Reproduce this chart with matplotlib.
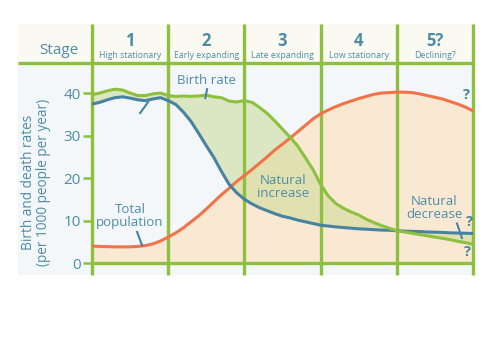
import numpy as np
import matplotlib
matplotlib.use("Agg")
import matplotlib.pyplot as plt
from matplotlib.patches import Rectangle

plt.rcParams['font.family'] = ['Open Sans', 'DejaVu Sans']

# ---- data ----
x = np.round(np.arange(0, 5.001, 0.1), 2)
birth_rate = [39.6, 40.0, 40.5, 40.9, 40.7, 40.0, 39.4, 39.4, 39.8, 40.0,
              39.4, 39.2, 39.3, 39.2, 39.3, 39.5, 39.1, 38.9, 38.1, 37.9,
              38.2, 37.8, 36.6, 35.2, 33.4, 31.5, 29.6, 27.5, 24.8, 22.0,
              18.5, 15.8, 14.0, 12.9, 12.0, 11.3, 10.3, 9.5, 8.8, 8.2,
              7.6, 7.3, 7.0, 6.7, 6.4, 6.1, 5.8, 5.5, 5.1, 4.8, 4.4]
death_rate = [37.4, 37.8, 38.4, 38.9, 39.1, 38.8, 38.4, 38.2, 38.6, 38.9,
              38.2, 37.3, 35.5, 33.3, 30.5, 27.6, 24.8, 21.5, 18.5, 16.5,
              15.0, 13.9, 13.0, 12.3, 11.6, 11.0, 10.6, 10.1, 9.7, 9.3,
              8.9, 8.7, 8.5, 8.35, 8.2, 8.05, 7.95, 7.85, 7.75, 7.7,
              7.6, 7.5, 7.45, 7.4, 7.3, 7.25, 7.2, 7.1, 7.05, 7.0, 6.95]
population = [4.0, 3.9, 3.85, 3.8, 3.8, 3.8, 3.9, 4.1, 4.5, 5.2,
              6.1, 7.1, 8.3, 9.7, 11.1, 12.7, 14.4, 16.1, 17.6, 19.2,
              20.6, 22.0, 23.5, 25.0, 26.6, 28.0, 29.4, 30.9, 32.4, 33.9,
              35.1, 36.0, 36.8, 37.5, 38.1, 38.7, 39.2, 39.7, 40.0, 40.1,
              40.2, 40.2, 40.1, 39.8, 39.4, 39.0, 38.6, 38.0, 37.4, 36.7, 35.8]
stage_numbers = ["1", "2", "3", "4", "5?"]
stage_names = ["High stationary", "Early expanding", "Late expanding",
               "Low stationary", "Declining?"]
y_ticks = [0, 10, 20, 30, 40]

# ---- styling ----
GREEN = "#8dc03f"
BLUE = "#4783a0"
ORANGE = "#f2734a"
TEAL = "#4e8ca6"
BG_BODY = "#f3f7f9"
BG_HEAD = "#fafaf3"
FILL_OR = "#f9e9d2"
FILL_GR = "#dbe7c3"
FILL_OV = "#e1e0b1"

W, H = 500, 353
fig = plt.figure(figsize=(W / 100, H / 100), dpi=100)
ax = fig.add_axes([92 / W, (H - 275) / H, (473 - 92) / W, (275 - 24) / H])
YMIN, YMAX = -2.82, 56.24
HEAD = 47.06
XL = -0.974
ax.set_xlim(0, 5)
ax.set_ylim(YMIN, YMAX)
for s in ax.spines.values():
    s.set_visible(False)
ax.patch.set_visible(False)

# backgrounds
ax.add_patch(Rectangle((XL, YMIN), 5.03 - XL, HEAD - YMIN, facecolor=BG_BODY,
                       edgecolor='none', clip_on=False, zorder=0))
ax.add_patch(Rectangle((XL, HEAD), 5.03 - XL, YMAX - HEAD, facecolor=BG_HEAD,
                       edgecolor='none', clip_on=False, zorder=0))

b = np.array(birth_rate)
d = np.array(death_rate)
p = np.array(population)

# fills
ax.fill_between(x, 0, p, color=FILL_OR, lw=0, zorder=1)
lo = np.minimum(b, d)
hi = np.maximum(b, d)
ax.fill_between(x, lo, hi, color=FILL_GR, lw=0, zorder=1.5)
ov_hi = np.minimum(hi, p)
ax.fill_between(x, lo, ov_hi, where=ov_hi >= lo, interpolate=True,
                color=FILL_OV, lw=0, zorder=1.6)

# grid / frame lines
ax.vlines(range(6), YMIN, YMAX, color=GREEN, lw=2.4, zorder=2, clip_on=False)
ax.plot([XL, 5], [HEAD, HEAD], color=GREEN, lw=2.4, zorder=2, clip_on=False,
        solid_capstyle='butt')
ax.plot([0, 5], [0, 0], color=GREEN, lw=2.4, zorder=2, clip_on=False,
        solid_capstyle='butt')

# curves
ax.plot(x, p, color=ORANGE, lw=2.2, zorder=3, solid_capstyle='round')
ax.plot(x, d, color=BLUE, lw=2.2, zorder=3, solid_capstyle='round')
ax.plot(x, b, color=GREEN, lw=2.2, zorder=3.1, solid_capstyle='round')

# ticks
ax.set_xticks([])
ax.set_yticks(y_ticks)
ax.set_yticklabels([str(v) for v in y_ticks])
ax.tick_params(axis='y', color=GREEN, length=6.5, width=1.8, pad=1.5,
               labelcolor=TEAL, labelsize=11)
ax.set_ylabel("Birth and death rates\n(per 1000 people per year)",
              color=TEAL, fontsize=9.8, linespacing=0.95)
ax.yaxis.set_label_coords(-0.108, 0.368)

# header
for i, (num, name) in enumerate(zip(stage_numbers, stage_names)):
    ax.text(i + 0.5, 52.3, num, ha='center', va='center', color=TEAL,
            fontsize=12, fontweight='bold')
    ax.text(i + 0.5, 48.8, name, ha='center', va='center', color=TEAL,
            fontsize=6.3)
ax.text(-0.43, 50.0, "Stage", ha='center', va='center', color=TEAL, fontsize=11)

# annotations
ax.text(1.5, 42.9, "Birth rate", ha='center', va='center', color=TEAL, fontsize=9.5)
ax.plot([1.51, 1.487], [40.9, 38.8], color=BLUE, lw=1.5, zorder=4)
ax.plot([0.737, 0.632], [37.9, 35.3], color=BLUE, lw=1.5, zorder=4)
ax.text(0.5, 11.1, "Total\npopulation", ha='center', va='center', color=TEAL,
        fontsize=9.5, linespacing=1.0)
ax.plot([0.592, 0.658], [7.3, 4.1], color=BLUE, lw=1.5, zorder=4)
ax.text(2.51, 18.0, "Natural\nincrease", ha='center', va='center', color=TEAL,
        fontsize=9.5, linespacing=1.0)
ax.text(4.49, 12.9, "Natural\ndecrease", ha='center', va='center', color=TEAL,
        fontsize=9.5, linespacing=1.0)
ax.plot([4.79, 4.855], [9.3, 5.9], color=BLUE, lw=1.5, zorder=4)
for (qx, qy) in [(4.92, 39.6), (4.95, 9.7), (4.93, 2.6)]:
    ax.text(qx, qy, "?", ha='center', va='center', color=BLUE, fontsize=10.5,
            fontweight='bold', zorder=5)

fig.savefig("out.png", dpi=100)
